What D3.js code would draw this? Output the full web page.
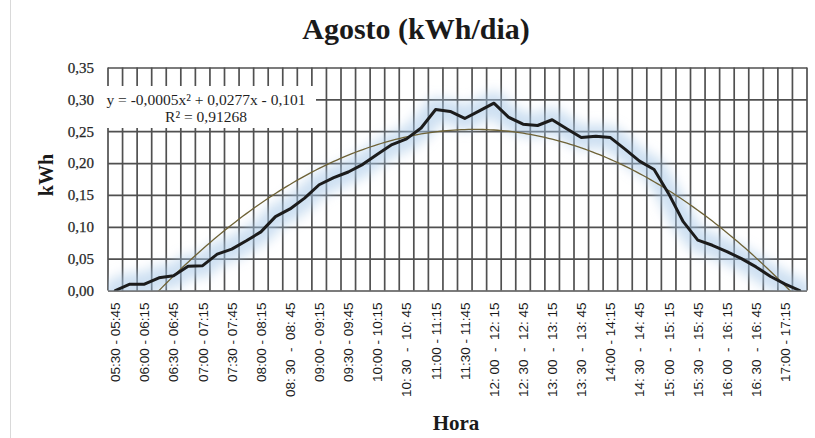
<!DOCTYPE html>
<html>
<head>
<meta charset="utf-8">
<script src="https://cdn.jsdelivr.net/npm/d3@7"></script>
<style>
  html, body { margin: 0; padding: 0; background: #fff; }
  svg { display: block; }
  .xlab { white-space: pre; }
</style>
</head>
<body>
<svg id="chart" width="815" height="438"></svg>
<script>
// Quarter-hour slots of the day (category axis)
const categories = [
  "05:30 - 05:45", "05:45 - 06:00", "06:00 - 06:15", "06:15 - 06:30",
  "06:30 - 06:45", "06:45 - 07:00", "07:00 - 07:15", "07:15 - 07:30",
  "07:30 - 07:45", "07:45 - 08:00", "08:00 - 08:15", "08:15 - 08:30",
  "08: 30  -  08: 45", "08:45 - 09:00", "09:00 - 09:15", "09:15 - 09:30",
  "09:30 - 09:45", "09:45 - 10:00", "10:00 - 10:15", "10:15 - 10:30",
  "10: 30  -  10: 45", "10:45 - 11:00", "11:00 - 11:15", "11:15 - 11:30",
  "11:30 - 11:45", "11:45 - 12:00", "12: 00  -  12: 15", "12:15 - 12:30",
  "12: 30  -  12: 45", "12:45 - 13:00", "13: 00  -  13: 15", "13:15 - 13:30",
  "13: 30  -  13: 45", "13:45 - 14:00", "14:00 - 14:15", "14:15 - 14:30",
  "14: 30  -  14: 45", "14:45 - 15:00", "15: 00  -  15: 15", "15:15 - 15:30",
  "15: 30  -  15: 45", "15:45 - 16:00", "16: 00  -  16: 15", "16:15 - 16:30",
  "16: 30  -  16: 45", "16:45 - 17:00", "17:00 - 17:15", "17:15 - 17:30"
];

// Average energy per slot in August (kWh)
const energy = [
  0.000, 0.010, 0.010, 0.020, 0.023, 0.038, 0.039, 0.057,
  0.065, 0.078, 0.092, 0.116, 0.128, 0.145, 0.166, 0.177,
  0.186, 0.198, 0.214, 0.229, 0.238, 0.255, 0.284, 0.281,
  0.270, 0.282, 0.294, 0.272, 0.261, 0.259, 0.268, 0.254,
  0.240, 0.242, 0.240, 0.222, 0.203, 0.190, 0.152, 0.108,
  0.079, 0.071, 0.061, 0.050, 0.037, 0.022, 0.010, 0.000
];

const yTicks = [0, 0.05, 0.10, 0.15, 0.20, 0.25, 0.30, 0.35];
const equationLines = ["y = -0,0005x\u00B2 + 0,0277x - 0,101", "R\u00B2 = 0,91268"];

const svg = d3.select("#chart");
const plot = { left: 108, right: 807, top: 67.5, bottom: 290.5 };
const serif = "'Liberation Serif', 'DejaVu Serif', serif";
const sans = "'Liberation Sans', Arial, sans-serif";

const x = d3.scaleBand().domain(categories).range([plot.left, plot.right]).padding(0);
const y = d3.scaleLinear().domain([0, 0.35]).range([plot.bottom, plot.top]);
const cx = c => x(c) + x.bandwidth() / 2;

// page frame edge
svg.append("line").attr("x1", 10.5).attr("x2", 10.5).attr("y1", 0).attr("y2", 438)
  .attr("stroke", "#d9d9d9").attr("stroke-width", 1);

// title
svg.append("text").attr("x", 416).attr("y", 39).attr("text-anchor", "middle")
  .attr("font-family", serif).attr("font-weight", "bold").attr("font-size", 30)
  .attr("fill", "#1a1a1a").text("Agosto (kWh/dia)");

const defs = svg.append("defs");
defs.append("clipPath").attr("id", "plotClip").append("rect")
  .attr("x", plot.left).attr("y", plot.top)
  .attr("width", plot.right - plot.left).attr("height", plot.bottom - plot.top);
defs.append("filter").attr("id", "glow").attr("x", "-10%").attr("y", "-40%")
  .attr("width", "120%").attr("height", "180%")
  .append("feGaussianBlur").attr("stdDeviation", 6);

const gridColor = "#505050";

// horizontal gridlines + y tick labels
const yAxis = svg.append("g").attr("transform", `translate(${plot.left},0)`)
  .call(d3.axisLeft(y).tickValues(yTicks)
    .tickSize(-(plot.right - plot.left)).tickPadding(14)
    .tickFormat(d => d3.format(".2f")(d).replace(".", ",")));
yAxis.select(".domain").remove();
yAxis.selectAll(".tick line").attr("stroke", gridColor).attr("stroke-width", 1.7);
yAxis.selectAll(".tick text").attr("font-family", serif).attr("font-size", 15)
  .attr("fill", "#262626").attr("stroke", "#262626").attr("stroke-width", 0.25);

// vertical gridlines on category boundaries
const bounds = categories.map(c => x(c)).concat([x.range()[1]]);
svg.append("g").selectAll("line").data(bounds).join("line")
  .attr("x1", d => d).attr("x2", d => d)
  .attr("y1", plot.top).attr("y2", plot.bottom)
  .attr("stroke", gridColor).attr("stroke-width", 1.7);

// x tick labels (every other slot)
const xAxis = svg.append("g").attr("transform", `translate(0,${plot.bottom})`)
  .call(d3.axisBottom(x).tickSize(0)
    .tickValues(categories.filter((c, i) => i % 2 === 0)));
xAxis.select(".domain").remove();
xAxis.selectAll(".tick text")
  .attr("class", "xlab")
  .attr("font-family", sans).attr("font-size", 13.5).attr("fill", "#1a1a1a")
  .attr("text-anchor", "end")
  .attr("transform", "rotate(-90)")
  .attr("x", -12).attr("y", 0).attr("dy", "0.36em");

// trend line: least-squares quadratic over slot index 1..n
function quadFit(vals) {
  const s = [0, 0, 0, 0, 0], t = [0, 0, 0];
  vals.forEach((v, i) => {
    const xi = i + 1;
    for (let k = 0; k < 5; k++) s[k] += Math.pow(xi, k);
    for (let k = 0; k < 3; k++) t[k] += v * Math.pow(xi, k);
  });
  const A = [[s[0], s[1], s[2], t[0]], [s[1], s[2], s[3], t[1]], [s[2], s[3], s[4], t[2]]];
  for (let i = 0; i < 3; i++) {
    for (let j = i + 1; j < 3; j++) {
      const f = A[j][i] / A[i][i];
      for (let k = i; k < 4; k++) A[j][k] -= f * A[i][k];
    }
  }
  const c = [0, 0, 0];
  for (let i = 2; i >= 0; i--) {
    let sum = A[i][3];
    for (let k = i + 1; k < 3; k++) sum -= A[i][k] * c[k];
    c[i] = sum / A[i][i];
  }
  return c; // c0 + c1 x + c2 x^2
}
const coef = quadFit(energy);
const idx = d3.scaleLinear().domain([1, categories.length])
  .range([cx(categories[0]), cx(categories[categories.length - 1])]);
const trendPts = d3.range(1, categories.length + 0.001, 0.25)
  .map(t => [idx(t), y(coef[0] + coef[1] * t + coef[2] * t * t)]);

const lineGen = d3.line().x((d, i) => cx(categories[i])).y(d => y(d));

const marks = svg.append("g").attr("clip-path", "url(#plotClip)");
// soft glow under the series
marks.append("path").datum(energy)
  .attr("d", lineGen).attr("fill", "none")
  .attr("stroke", "#a6c6e8").attr("stroke-width", 24).attr("stroke-opacity", 0.55)
  .attr("stroke-linejoin", "round").attr("stroke-linecap", "round")
  .attr("filter", "url(#glow)");

marks.append("path").datum(trendPts)
  .attr("d", d3.line()).attr("fill", "none")
  .attr("stroke", "#6e6236").attr("stroke-width", 1.3);

marks.append("path").datum(energy)
  .attr("d", lineGen).attr("fill", "none")
  .attr("stroke", "#1c1c1c").attr("stroke-width", 3)
  .attr("stroke-linejoin", "round").attr("stroke-linecap", "round");

// equation label
svg.append("rect").attr("x", 98).attr("y", 86).attr("width", 218).attr("height", 42)
  .attr("fill", "#fff");
svg.append("g").selectAll("text").data(equationLines).join("text")
  .attr("x", 206)
  .attr("y", (d, i) => 105 + i * 16.5)
  .attr("text-anchor", "middle")
  .attr("font-family", serif).attr("font-size", 15.5).attr("fill", "#1f1f1f")
  .text(d => d);

// axis titles
svg.append("text").attr("transform", "translate(53,175) rotate(-90)")
  .attr("text-anchor", "middle").attr("font-family", serif).attr("font-weight", "bold")
  .attr("font-size", 20).attr("fill", "#1a1a1a").text("kWh");
svg.append("text").attr("x", 456).attr("y", 430)
  .attr("text-anchor", "middle").attr("font-family", serif).attr("font-weight", "bold")
  .attr("font-size", 21).attr("fill", "#1a1a1a").text("Hora");
</script>
</body>
</html>
